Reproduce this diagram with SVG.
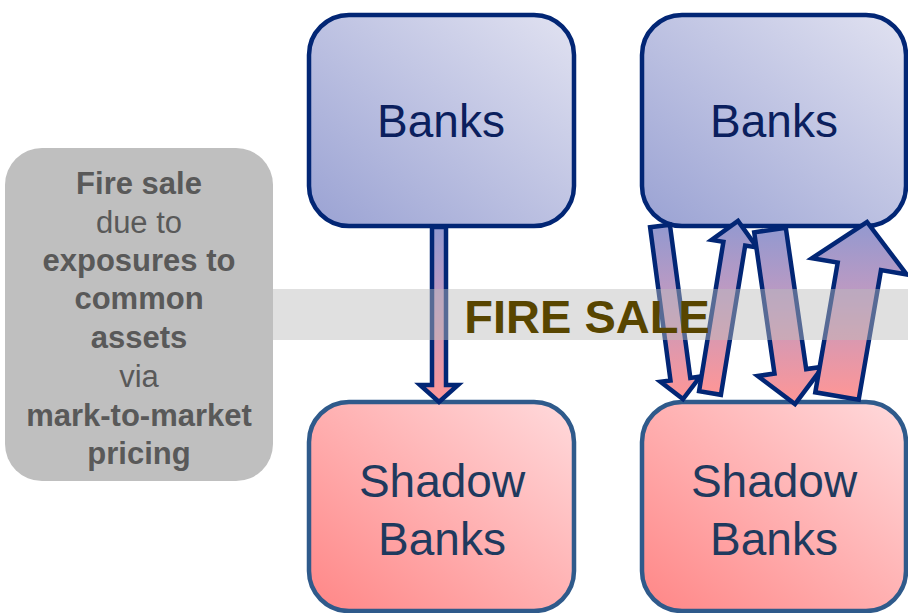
<svg xmlns="http://www.w3.org/2000/svg" width="908" height="613" viewBox="0 0 908 613">
  <defs>
    <linearGradient id="gBank" x1="0" y1="1" x2="1" y2="0">
      <stop offset="0" stop-color="#9aa2d3"/>
      <stop offset="1" stop-color="#e1e2f1"/>
    </linearGradient>
    <linearGradient id="gShadow" x1="0" y1="1" x2="1" y2="0">
      <stop offset="0" stop-color="#ff8686"/>
      <stop offset="1" stop-color="#ffdadc"/>
    </linearGradient>
    <linearGradient id="gArrow" x1="0" y1="0" x2="0" y2="1">
      <stop offset="0" stop-color="#9299d0"/>
      <stop offset="0.45" stop-color="#c39ac0"/>
      <stop offset="1" stop-color="#ff9696"/>
    </linearGradient>
  </defs>
  <style>
    .bank { fill: url(#gBank); stroke: #022675; stroke-width: 4.5; }
    .shadow { fill: url(#gShadow); stroke: #2f5a8b; stroke-width: 4.5; }
    .arrow { fill: url(#gArrow); stroke: #022675; stroke-width: 4.5; stroke-linejoin: miter; }
    .lbl { font-family: "Liberation Sans", Arial, sans-serif; font-size: 46px; text-anchor: middle; }
    .bankTxt { fill: #0b1f5e; }
    .shadowTxt { fill: #1f3a5e; }
    .side { font-family: "Liberation Sans", Arial, sans-serif; font-size: 31px; text-anchor: middle; fill: #595959; }
    .b { font-weight: bold; }
  </style>

  <g id="banks-left">
    <rect class="bank" x="309" y="15" width="265" height="211" rx="40"/>
    <text class="lbl bankTxt" x="441" y="137">Banks</text>
  </g>
  <g id="banks-right">
    <rect class="bank" x="642" y="15" width="264" height="211" rx="40"/>
    <text class="lbl bankTxt" x="774" y="137">Banks</text>
  </g>
  <g id="shadow-left">
    <rect class="shadow" x="309" y="402" width="265" height="209" rx="40"/>
    <text class="lbl shadowTxt" x="442" y="497">Shadow</text>
    <text class="lbl shadowTxt" x="442" y="555">Banks</text>
  </g>
  <g id="shadow-right">
    <rect class="shadow" x="642" y="402" width="264" height="209" rx="40"/>
    <text class="lbl shadowTxt" x="774" y="497">Shadow</text>
    <text class="lbl shadowTxt" x="774" y="555">Banks</text>
  </g>

  <g id="connectors">
    <polygon class="arrow" points="432,227 432,385 420,385 439,402 458,385 446,385 446,227"/>
    <polygon class="arrow" points="650.1,227.3 670.5,380.5 660.5,381.8 683,399 700.2,376.5 690.3,377.9 669.9,224.7"/>
    <polygon class="arrow" points="720.9,394.8 745.2,245.5 757,247.4 738,221 711.6,240 723.4,241.9 699.1,391.2"/>
    <polygon class="arrow" points="754.2,232.3 774.5,373.6 757.7,376 795,404 823,366.7 806.2,369.1 785.8,227.7"/>
    <polygon class="arrow" points="858.7,399.7 881,270.1 906.7,274.5 867,222 812,258.2 837.7,262.6 815.3,392.3"/>
  </g>

  <g id="fire-sale-band">
    <rect x="270" y="289" width="638" height="51" fill="#bbbbbb" fill-opacity="0.46"/>
    <text x="587" y="333" font-family="'Liberation Sans', Arial, sans-serif" font-size="47" font-weight="bold" text-anchor="middle" fill="#584500">FIRE SALE</text>
  </g>

  <g id="fire-sale-note">
    <rect x="5" y="148" width="268" height="333" rx="37" fill="#bfbfbf"/>
    <text class="side b" x="139" y="194">Fire sale</text>
    <text class="side" x="139" y="233">due to</text>
    <text class="side b" x="139" y="271">exposures to</text>
    <text class="side b" x="139" y="309">common</text>
    <text class="side b" x="139" y="348">assets</text>
    <text class="side" x="139" y="387">via</text>
    <text class="side b" x="139" y="426">mark-to-market</text>
    <text class="side b" x="139" y="464">pricing</text>
  </g>
</svg>
